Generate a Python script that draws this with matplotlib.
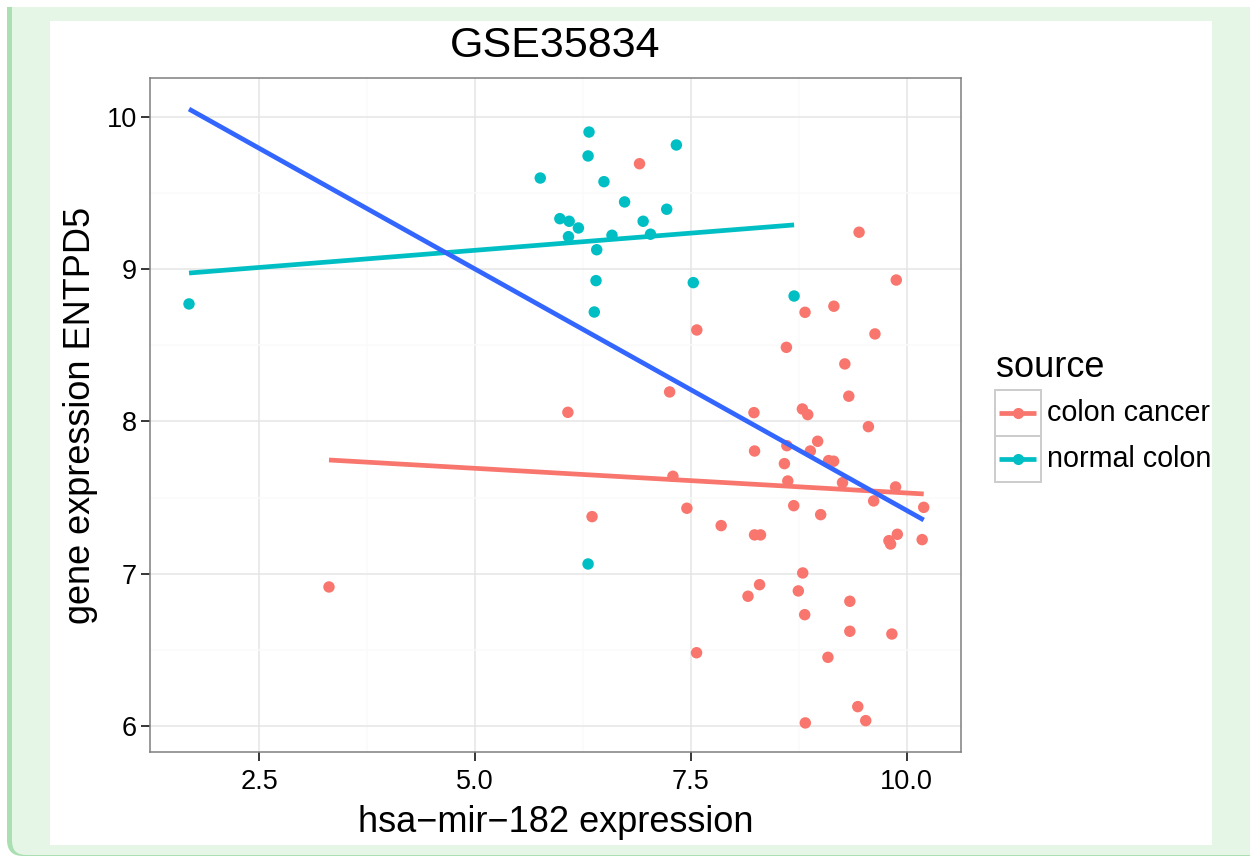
import numpy as np
import matplotlib
matplotlib.use('Agg')
import matplotlib.pyplot as plt
from matplotlib.patches import FancyBboxPatch, Rectangle

plt.rcParams['font.family'] = ['Liberation Sans', 'DejaVu Sans']

title = "GSE35834"
x_label = "hsa\u2212mir\u2212182 expression"
y_label = "gene expression ENTPD5"
legend_title = "source"
groups = ["colon cancer", "normal colon"]
group_colors = ["#F8766D", "#00BFC4"]
overall_color = "#3366FF"

cancer_x = [3.307, 6.905, 7.569, 6.075, 7.254, 7.292, 6.355, 7.454, 9.449, 9.880,
            9.157, 8.823, 9.633, 8.607, 9.284, 9.330, 8.231, 8.792, 8.854, 9.557,
            8.969, 8.612, 8.884, 8.238, 8.584, 9.096, 9.154, 8.623, 9.257, 9.872,
            9.618, 10.198, 8.692, 9.004, 7.851, 8.238, 8.307, 9.892, 9.795, 9.814,
            10.180, 8.796, 8.296, 8.162, 8.745, 9.342, 8.819, 9.342, 9.829, 7.566,
            9.088, 9.434, 9.526, 8.826]
cancer_y = [6.913, 9.693, 8.601, 8.060, 8.194, 7.640, 7.375, 7.430, 9.243, 8.929,
            8.757, 8.717, 8.575, 8.487, 8.378, 8.166, 8.058, 8.082, 8.045, 7.966,
            7.870, 7.841, 7.806, 7.806, 7.723, 7.743, 7.739, 7.609, 7.598, 7.570,
            7.478, 7.436, 7.447, 7.388, 7.316, 7.255, 7.255, 7.259, 7.217, 7.195,
            7.224, 7.005, 6.928, 6.852, 6.887, 6.819, 6.731, 6.622, 6.604, 6.481,
            6.451, 6.127, 6.035, 6.020]
normal_x = [1.685, 6.320, 6.309, 5.755, 7.332, 6.493, 6.732, 7.220, 5.982, 6.090,
            6.197, 6.082, 6.586, 6.947, 7.032, 6.409, 6.401, 7.528, 6.381, 8.696,
            6.309]
normal_y = [8.772, 9.901, 9.744, 9.599, 9.816, 9.575, 9.442, 9.394, 9.332, 9.315,
            9.271, 9.214, 9.223, 9.315, 9.230, 9.128, 8.925, 8.912, 8.719, 8.824,
            7.064]

# linear-fit lines (start / end values)
cancer_fit_x = [3.307, 10.198]
cancer_fit_y = [7.747, 7.524]
normal_fit_x = [1.685, 8.696]
normal_fit_y = [8.975, 9.291]
overall_fit_x = [1.685, 10.198]
overall_fit_y = [10.052, 7.353]

x_ticks = [2.5, 5.0, 7.5, 10.0]
x_tick_labels = ["2.5", "5.0", "7.5", "10.0"]
x_minor = [3.75, 6.25, 8.75]
y_ticks = [6, 7, 8, 9, 10]
y_tick_labels = ["6", "7", "8", "9", "10"]
y_minor = [6.5, 7.5, 8.5, 9.5]
x_limits = (1.233, 10.63)
y_limits = (5.829, 10.256)

W, H = 1250, 856
fig = plt.figure(figsize=(W / 100, H / 100), dpi=100)
fig.patch.set_facecolor('white')

# background frame (pixel coordinates)
bg = fig.add_axes([0, 0, 1, 1], zorder=0)
bg.set_xlim(0, W)
bg.set_ylim(H, 0)
bg.axis('off')
bg.add_patch(FancyBboxPatch((7, -60), 1300, 916, boxstyle="round,pad=0,rounding_size=16",
                            facecolor='#a9dfb1', edgecolor='none'))
bg.add_patch(FancyBboxPatch((12, -60), 1300, 915, boxstyle="round,pad=0,rounding_size=14",
                            facecolor='#e5f5e6', edgecolor='none'))
bg.add_patch(Rectangle((0, 0), W, 7, facecolor='white', edgecolor='none'))
bg.add_patch(Rectangle((50, 21), 1162, 824, facecolor='white', edgecolor='none'))

# main panel
L, R, T, B = 150, 961, 78, 752
ax = fig.add_axes([L / W, (H - B) / H, (R - L) / W, (B - T) / H], zorder=2)
ax.set_facecolor('white')
ax.set_xlim(*x_limits)
ax.set_ylim(*y_limits)
ax.set_xticks(x_ticks)
ax.set_xticklabels(x_tick_labels)
ax.set_yticks(y_ticks)
ax.set_yticklabels(y_tick_labels)
ax.set_xticks(x_minor, minor=True)
ax.set_yticks(y_minor, minor=True)
ax.tick_params(which='major', length=6.5, width=1.1, color='black', labelsize=19.5,
               labelcolor='black')
ax.tick_params(axis='x', which='major', pad=6)
ax.tick_params(axis='y', which='major', pad=3)
ax.tick_params(which='minor', length=0)
ax.grid(which='major', color='#e5e5e5', linewidth=1.1, zorder=0)
ax.grid(which='minor', color='#fafafa', linewidth=1.1, zorder=0)
ax.set_axisbelow(True)
for s in ax.spines.values():
    s.set_color('#7f7f7f')
    s.set_linewidth(1.1)

pts = [(cancer_x, cancer_y), (normal_x, normal_y)]
fits = [(cancer_fit_x, cancer_fit_y), (normal_fit_x, normal_fit_y)]
for (gx, gy), col in zip(pts, group_colors):
    ax.scatter(gx, gy, s=68, color=col, edgecolors='none', zorder=3)
for (fx, fy), col in zip(fits, group_colors):
    ax.plot(fx, fy, color=col, linewidth=3.4, zorder=4, solid_capstyle='butt')
ax.plot(overall_fit_x, overall_fit_y, color=overall_color, linewidth=3.4, zorder=5,
        solid_capstyle='butt')

# titles
bg.text((L + R) / 2, 57, title, fontsize=31, ha='center', va='baseline', color='black')
bg.text((L + R) / 2, 832, x_label, fontsize=26, ha='center', va='baseline', color='black')
bg.text(81, (T + B) / 2, y_label, fontsize=26, ha='center', va='center', rotation=90,
        color='black')

# legend
bg.text(996, 377, legend_title, fontsize=26, ha='left', va='baseline', color='black')
key_top = 389.5
key_h = 46.3
for i, (g, col) in enumerate(zip(groups, group_colors)):
    top = key_top + i * key_h
    cy = top + key_h / 2
    bg.add_patch(Rectangle((994.5, top), 46.5, key_h, facecolor='white',
                           edgecolor='#cccccc', linewidth=1.4, zorder=3))
    bg.plot([999, 1036], [cy, cy], color=col, linewidth=3.4, zorder=4,
            solid_capstyle='butt')
    bg.plot([1017.5], [cy], marker='o', markersize=8.0, color=col,
            markeredgewidth=0, zorder=5)
    bg.text(1047, cy, g, fontsize=20.7, ha='left', va='center', color='black')

fig.savefig('out.png', dpi=100, facecolor='white')
